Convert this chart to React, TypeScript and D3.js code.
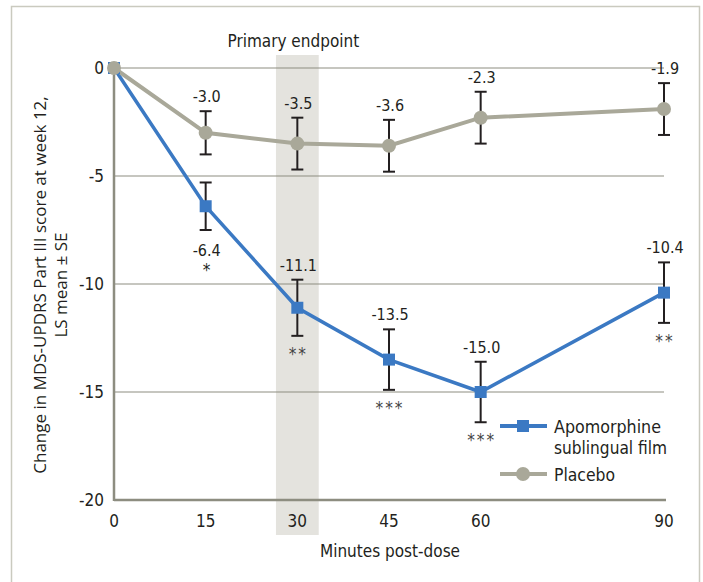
import React from 'react';
import * as d3 from 'd3';

// time points (minutes post-dose)
const minutes = [0, 15, 30, 45, 60, 90];
const apoMean = [0, -6.4, -11.1, -13.5, -15.0, -10.4];
const apoSE = [0, 1.1, 1.3, 1.4, 1.4, 1.4];
const apoStars = ['', '*', '**', '***', '***', '**'];
const placeboMean = [0, -3.0, -3.5, -3.6, -2.3, -1.9];
const placeboSE = [0, 1.0, 1.2, 1.2, 1.2, 1.2];
const yTicks = [0, -5, -10, -15, -20];
const xTicks = [0, 15, 30, 45, 60, 90];
const bandRange = [26.5, 33.5];

const W = 703;
const H = 582;
const font = "'DejaVu Sans Condensed', 'Liberation Sans Narrow', 'Roboto', sans-serif";
const blue = '#3b79c3';
const grey = '#a9a899';
const axisCol = '#8d8d80';
const ink = '#231f20';

const App = () => {
    const x = d3.scaleLinear().domain([0, 90]).range([114, 664]);
    const y = d3.scaleLinear().domain([-20, 0]).range([500, 68]);
    const line = d3.line<number>()
        .x((d, i) => x(minutes[i]))
        .y((d) => y(d));

    const errorBar = (t: number, m: number, se: number, key: string) => {
        if (se === 0) return null;
        const cx = x(t);
        const top = y(m + se);
        const bot = y(m - se);
        return (
            <g key={key} stroke={ink} strokeWidth={2}>
                <line x1={cx} x2={cx} y1={top} y2={bot} />
                <line x1={cx - 6} x2={cx + 6} y1={top} y2={top} />
                <line x1={cx - 6} x2={cx + 6} y1={bot} y2={bot} />
            </g>
        );
    };

    return (
        <svg width={W} height={H} style={{ position: 'absolute', left: 0, top: 0 }} fontFamily={font}>
            <rect x={0} y={0} width={W} height={H} fill="#fff" />
            {/* frame */}
            <path d={`M11.5,${H} V6.5 H699.5 V${H}`} fill="none" stroke="#cacabf" strokeWidth={1.5} />

            {/* primary endpoint band */}
            <rect x={x(bandRange[0])} y={55} width={x(bandRange[1]) - x(bandRange[0])} height={480} fill="#e4e3de" />
            <text x={x(30) - 4} y={47} textAnchor="middle" fontSize={17} fill={ink}>Primary endpoint</text>

            {/* gridlines */}
            {yTicks.slice(0, 4).map((t) => (
                <line key={`g${t}`} x1={x(0)} x2={x(90)} y1={y(t)} y2={y(t)} stroke={axisCol} strokeWidth={1} />
            ))}
            <line x1={x(0)} x2={x(90) + 2} y1={y(-20)} y2={y(-20)} stroke={axisCol} strokeWidth={2.5} />
            <line x1={x(0)} x2={x(0)} y1={y(0)} y2={y(-20) + 1} stroke={axisCol} strokeWidth={2.5} />

            {/* tick labels */}
            {yTicks.map((t) => (
                <text key={`yt${t}`} x={104} y={y(t) + 6} textAnchor="end" fontSize={17} fill={ink}>{t}</text>
            ))}
            {xTicks.map((t) => (
                <text key={`xt${t}`} x={x(t)} y={527} textAnchor="middle" fontSize={17} fill={ink}>{t}</text>
            ))}
            <text x={x(45) + 1} y={557} textAnchor="middle" fontSize={17} fill={ink}>Minutes post-dose</text>

            {/* y axis title */}
            <g transform="translate(0,285) rotate(-90)" fontFamily="'Open Sans', sans-serif" fontSize={17} fill={ink} textAnchor="middle">
                <text x={0} y={46}>Change in MDS-UPDRS Part III score at week 12,</text>
                <text x={0} y={67}>LS mean ± SE</text>
            </g>

            {/* error bars */}
            {placeboMean.map((m, i) => errorBar(minutes[i], m, placeboSE[i], `pe${i}`))}
            {apoMean.map((m, i) => errorBar(minutes[i], m, apoSE[i], `ae${i}`))}

            {/* series lines */}
            <path d={line(apoMean) || ''} fill="none" stroke={blue} strokeWidth={3.5} />
            <path d={line(placeboMean) || ''} fill="none" stroke={grey} strokeWidth={4} />
            {apoMean.map((m, i) => (
                <rect key={`am${i}`} x={x(minutes[i]) - 6} y={y(m) - 6} width={12} height={12} fill={blue} />
            ))}
            {placeboMean.map((m, i) => (
                <circle key={`pm${i}`} cx={x(minutes[i])} cy={y(m)} r={7} fill={grey} />
            ))}

            {/* value labels */}
            {placeboMean.map((m, i) => (i === 0 ? null : (
                <text key={`pl${i}`} x={x(minutes[i]) + 1} y={y(m + placeboSE[i]) - 9} textAnchor="middle" fontSize={16} fill={ink}>
                    {m.toFixed(1)}
                </text>
            )))}
            {apoMean.map((m, i) => {
                if (i === 0) return null;
                const cx = x(minutes[i]) + 1;
                if (i === 1) {
                    return (
                        <g key={`al${i}`} textAnchor="middle" fill={ink}>
                            <text x={cx} y={y(m - apoSE[i]) + 26} fontSize={16}>{m.toFixed(1)}</text>
                            <text x={cx} y={y(m - apoSE[i]) + 46} fontSize={17}>{apoStars[i]}</text>
                        </g>
                    );
                }
                return (
                    <g key={`al${i}`} textAnchor="middle" fill={ink}>
                        <text x={cx} y={y(m + apoSE[i]) - 9} fontSize={16}>{m.toFixed(1)}</text>
                        <text x={cx} y={y(m - apoSE[i]) + 24} fontSize={17} letterSpacing={2} fill="#444">{apoStars[i]}</text>
                    </g>
                );
            })}

            {/* legend */}
            <g>
                <line x1={500} x2={547} y1={426} y2={426} stroke={blue} strokeWidth={4} />
                <rect x={517} y={420} width={12} height={12} fill={blue} />
                <text x={554} y={433} fontSize={18} fill={ink} textLength={107} lengthAdjust="spacingAndGlyphs">Apomorphine</text>
                <text x={554} y={454} fontSize={18} fill={ink} textLength={113} lengthAdjust="spacingAndGlyphs">sublingual film</text>
                <line x1={500} x2={547} y1={474} y2={474} stroke={grey} strokeWidth={4} />
                <circle cx={523} cy={474} r={7} fill={grey} />
                <text x={554} y={481} fontSize={18} fill={ink} textLength={61} lengthAdjust="spacingAndGlyphs">Placebo</text>
            </g>
        </svg>
    );
};

export default App;
